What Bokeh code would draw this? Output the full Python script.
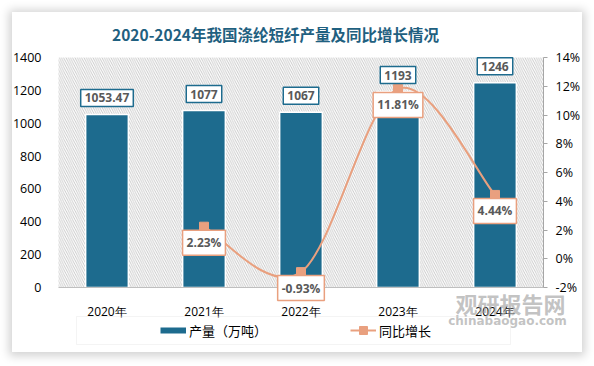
import numpy as np
from bokeh.plotting import figure
from bokeh.models import (Range1d, LinearAxis, FixedTicker, PrintfTickFormatter,
                          BoxAnnotation, Label, Legend, LegendItem)
from bokeh.embed import file_html
from bokeh.resources import INLINE

# ---------------- data ----------------
years = ["2020年", "2021年", "2022年", "2023年", "2024年"]
output = [1053.47, 1077, 1067, 1193, 1246]
output_labels = ["1053.47", "1077", "1067", "1193", "1246"]
growth_years_idx = [1, 2, 3, 4]
growth = [2.23, -0.93, 11.81, 4.44]
growth_labels = ["2.23%", "-0.93%", "11.81%", "4.44%"]
left_ticks = [0, 200, 400, 600, 800, 1000, 1200, 1400]
right_ticks = [-2, 0, 2, 4, 6, 8, 10, 12, 14]
title_text = "2020-2024年我国涤纶短纤产量及同比增长情况"
bar_name = "产量（万吨）"
line_name = "同比增长"

# ---------------- style / layout ----------------
BAR = "#1d6b8e"
LINE = "#e9a07f"
LBL = "#595959"
FONT = "Open Sans"
CJK = "Noto Sans CJK SC"

W, H = 570, 340                    # card size
PL, PR, PT, PB = 46, 531, 45, 275  # plot area inside the card (pixels)

nx = len(years)
ppx = (PR - PL) / nx
ppy = (PB - PT) / (left_ticks[-1] - left_ticks[0])
ppp = (PB - PT) / (right_ticks[-1] - right_ticks[0])

xs = np.arange(nx) + 0.5
gx = xs[growth_years_idx]
gy = np.array(growth, dtype=float)

x_range = Range1d(-PL / ppx, nx + (W - PR) / ppx)
y_range = Range1d(left_ticks[0] - (H - PB) / ppy, left_ticks[-1] + PT / ppy)
pct_range = Range1d(right_ticks[0] - (H - PB) / ppp, right_ticks[-1] + PT / ppp)

p = figure(width=W, height=H, output_backend="svg", toolbar_location=None,
           x_range=x_range, y_range=y_range, title=None,
           min_border_left=0, min_border_right=0, min_border_top=0, min_border_bottom=0,
           margin=(12, 12, 12, 12))
p.styles = {"box-shadow": "0px 1px 9px 3px rgba(0,0,0,0.18)"}
p.outline_line_color = None
p.background_fill_color = "white"
p.border_fill_color = "white"
p.xgrid.visible = False
p.ygrid.visible = False
p.extra_y_ranges = {"pct": pct_range}

# hatched plot background (plot area only)
p.add_layout(BoxAnnotation(left=0, right=nx, bottom=left_ticks[0], top=left_ticks[-1],
                           fill_alpha=0, line_alpha=0, hatch_pattern="\\",
                           hatch_color="#c4c4c4", hatch_scale=4.5, hatch_weight=0.9,
                           level="underlay"))

# axes
xa = p.xaxis[0]
xa.fixed_location = left_ticks[0]
xa.bounds = (0, nx)
xa.ticker = FixedTicker(ticks=list(xs))
xa.major_label_overrides = {float(x): y for x, y in zip(xs, years)}
xa.axis_line_color = "#bfbfbf"
xa.major_tick_line_color = None
xa.minor_tick_line_color = None
xa.major_label_standoff = 9
xa.major_label_text_font = FONT
xa.major_label_text_font_size = "12px"
xa.major_label_text_color = "#000000"

ya = p.yaxis[0]
ya.fixed_location = 0
ya.bounds = (left_ticks[0], left_ticks[-1])
ya.ticker = FixedTicker(ticks=left_ticks)
ya.axis_line_color = None
ya.major_tick_line_color = None
ya.minor_tick_line_color = None
ya.major_label_standoff = 11
ya.major_label_text_font = FONT
ya.major_label_text_font_size = "12.5px"
ya.major_label_text_color = "#000000"

ra = LinearAxis(y_range_name="pct", ticker=FixedTicker(ticks=right_ticks),
                formatter=PrintfTickFormatter(format="%d%%"),
                fixed_location=nx, bounds=(right_ticks[0], right_ticks[-1]))
ra.axis_line_color = "#a6a6a6"
ra.major_tick_line_color = "#a6a6a6"
ra.major_tick_in = 0
ra.major_tick_out = 4
ra.minor_tick_line_color = None
ra.major_label_standoff = 8
ra.major_label_text_font = FONT
ra.major_label_text_font_size = "12.5px"
ra.major_label_text_color = "#000000"
p.add_layout(ra, "right")

# bars
p.vbar(x=xs, top=output, width=0.44, bottom=0, fill_color=BAR,
       line_color="white", line_width=1.5)

# smooth line via bezier segments (Catmull-Rom style control points from the data)
n = len(gx)
x0, y0, x1, y1, cx0, cy0, cx1, cy1 = [], [], [], [], [], [], [], []
for i in range(n - 1):
    pi = i - 1 if i > 0 else i
    ni = i + 2 if i + 2 < n else i + 1
    x0.append(gx[i]); y0.append(gy[i]); x1.append(gx[i + 1]); y1.append(gy[i + 1])
    cx0.append(gx[i] + (gx[i + 1] - gx[pi]) / 6); cy0.append(gy[i] + (gy[i + 1] - gy[pi]) / 6)
    cx1.append(gx[i + 1] - (gx[ni] - gx[i]) / 6); cy1.append(gy[i + 1] - (gy[ni] - gy[i]) / 6)
p.bezier(x0=x0, y0=y0, x1=x1, y1=y1, cx0=cx0, cy0=cy0, cx1=cx1, cy1=cy1,
         line_color=LINE, line_width=2, y_range_name="pct")
marks = p.scatter(x=gx, y=gy, marker="square", size=9, fill_color=LINE,
                  line_color=LINE, y_range_name="pct")

# data labels
for x, v, t in zip(xs, output, output_labels):
    p.add_layout(Label(x=x, y=v, text=t, y_offset=16.5,
                       text_align="center", text_baseline="middle",
                       text_font=FONT, text_font_size="12px", text_font_style="bold",
                       text_color=LBL, background_fill_color="white",
                       border_line_color=BAR, border_line_width=1.5, padding=4))
for x, v, t in zip(gx, gy, growth_labels):
    p.add_layout(Label(x=x, y=v, text=t, y_offset=-16, y_range_name="pct",
                       text_align="center", text_baseline="middle",
                       text_font=FONT, text_font_size="12px", text_font_style="bold",
                       text_color=LBL, background_fill_color="white",
                       border_line_color=LINE, border_line_width=1.5, padding=4))

# title
p.add_layout(Label(x=263, y=H - 21, x_units="screen", y_units="screen", text=title_text,
                   text_align="center", text_baseline="middle", text_font=CJK,
                   text_font_size="15.5px", text_font_style="bold", text_color="#1f6080"))

# watermark
p.add_layout(Label(x=498, y=50, x_units="screen", y_units="screen", text="观研报告网",
                   text_align="center", text_baseline="middle", text_font=CJK,
                   text_font_size="22px", text_font_style="bold", text_color="#9a9a9a",
                   text_alpha=0.6))
p.add_layout(Label(x=495, y=32, x_units="screen", y_units="screen", text="chinabaogao.com",
                   text_align="center", text_baseline="middle", text_font="DejaVu Sans",
                   text_font_size="12px", text_font_style="bold", text_color="#9a9a9a",
                   text_alpha=0.6))

# legend (proxy renderers that draw nothing in the plot itself)
nan2 = [np.nan, np.nan]
bar_proxy = p.line(x=nan2, y=nan2, line_color=BAR, line_width=6)
line_proxy = p.line(x=nan2, y=nan2, line_color=LINE, line_width=2)
p.add_layout(BoxAnnotation(left=64, right=498, bottom=8, top=36,
                           left_units="screen", right_units="screen",
                           bottom_units="screen", top_units="screen",
                           fill_alpha=0, line_color="#d9d9d9", line_width=1))
legend = Legend(items=[LegendItem(label=bar_name, renderers=[bar_proxy]),
                       LegendItem(label=line_name, renderers=[line_proxy, marks])],
                location=(148, 12), orientation="horizontal", glyph_width=26,
                glyph_height=20, label_standoff=3, spacing=83, padding=0, margin=0,
                border_line_alpha=0, background_fill_alpha=0,
                label_text_font=CJK, label_text_font_size="13px", label_text_color="#000000")
p.add_layout(legend)

open("out.html", "w").write(file_html(p, INLINE))
